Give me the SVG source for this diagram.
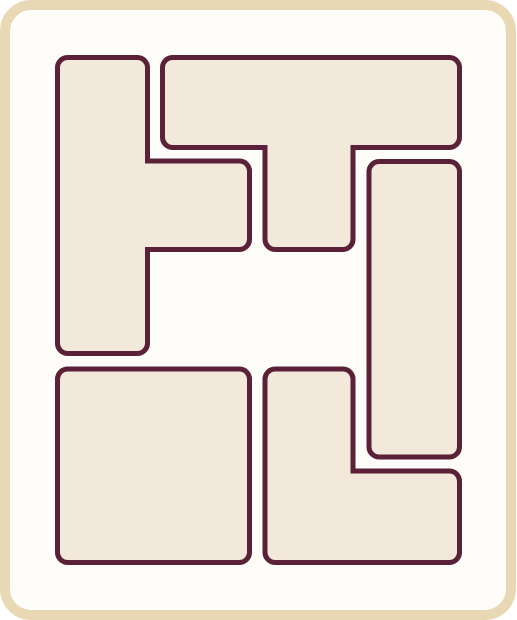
<svg xmlns="http://www.w3.org/2000/svg" width="517" height="620" viewBox="0 0 517 620">
<style>
.frame{fill:#fffdf9;stroke:#e9d8b4;stroke-width:10}
.piece{fill:#f2e9db;stroke:#5b2139;stroke-width:5;stroke-linejoin:miter}
</style>
<rect class="frame" x="5" y="5" width="506" height="610" rx="26"/>
<g id="piece-left-t">
<path class="piece" d="M67.5,57.5 H137.5 A10,10 0 0 1 147.5,67.5 V161 H239.5 A10,10 0 0 1 249.5,171 V239.5 A10,10 0 0 1 239.5,249.5 H147.5 V343.5 A10,10 0 0 1 137.5,353.5 H67.5 A10,10 0 0 1 57.5,343.5 V67.5 A10,10 0 0 1 67.5,57.5 Z"/>
</g>
<g id="piece-top-t">
<path class="piece" d="M172.5,57.5 H449.5 A10,10 0 0 1 459.5,67.5 V137.5 A10,10 0 0 1 449.5,147.5 H353 V239.5 A10,10 0 0 1 343,249.5 H275 A10,10 0 0 1 265,239.5 V147.5 H172.5 A10,10 0 0 1 162.5,137.5 V67.5 A10,10 0 0 1 172.5,57.5 Z"/>
</g>
<g id="piece-right-bar">
<rect class="piece" x="369" y="161.5" width="90.5" height="295.5" rx="10"/>
</g>
<g id="piece-square">
<rect class="piece" x="57.5" y="369" width="192" height="193.5" rx="10"/>
</g>
<g id="piece-l">
<path class="piece" d="M275,369 H343 A10,10 0 0 1 353,379 V471 H449.5 A10,10 0 0 1 459.5,481 V552.5 A10,10 0 0 1 449.5,562.5 H275 A10,10 0 0 1 265,552.5 V379 A10,10 0 0 1 275,369 Z"/>
</g>
<g id="connectors"></g>
</svg>
